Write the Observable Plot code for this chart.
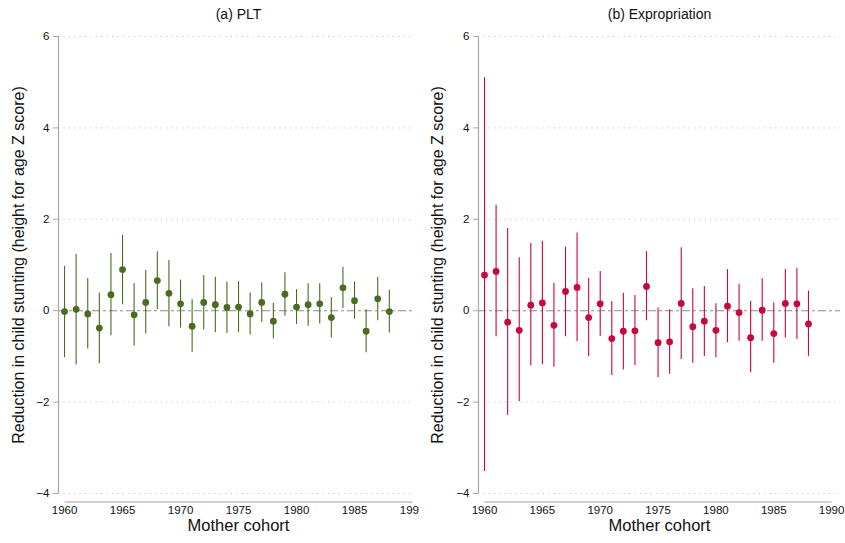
<!DOCTYPE html>
<html>
<head>
<meta charset="utf-8">
<script src="https://cdn.jsdelivr.net/npm/d3@7"></script>
<script src="https://cdn.jsdelivr.net/npm/@observablehq/plot@0.6"></script>
<style>
  html, body { margin: 0; padding: 0; background: #fff; }
  #wrap { position: relative; width: 845px; height: 543px; overflow: hidden; font-family: "Liberation Sans", Arial, sans-serif; }
  .panel { position: absolute; top: 0; overflow: hidden; }
</style>
</head>
<body>
<div id="wrap">
  <div id="left" class="panel" style="left:0px;width:419px;height:543px"></div>
  <div id="right" class="panel" style="left:422px;width:423px;height:543px"></div>
</div>
<script>
const years = [1960,1961,1962,1963,1964,1965,1966,1967,1968,1969,1970,1971,1972,1973,1974,1975,1976,1977,1978,1979,1980,1981,1982,1983,1984,1985,1986,1987,1988];

const pltEst = [-0.02,0.03,-0.07,-0.38,0.35,0.90,-0.09,0.18,0.66,0.38,0.15,-0.34,0.18,0.13,0.07,0.08,-0.07,0.18,-0.23,0.36,0.08,0.13,0.15,-0.15,0.50,0.22,-0.45,0.26,-0.02];
const pltLo  = [-1.03,-1.19,-0.84,-1.16,-0.55,0.13,-0.78,-0.51,0.02,-0.35,-0.38,-0.91,-0.42,-0.48,-0.50,-0.48,-0.53,-0.26,-0.62,-0.12,-0.30,-0.34,-0.29,-0.60,0.04,-0.19,-0.92,-0.22,-0.49];
const pltHi  = [0.97,1.23,0.70,0.39,1.25,1.65,0.59,0.88,1.29,1.10,0.67,0.24,0.77,0.73,0.63,0.64,0.39,0.61,0.16,0.83,0.46,0.59,0.59,0.29,0.95,0.63,0.02,0.73,0.45];

const expEst = [0.78,0.86,-0.25,-0.43,0.12,0.17,-0.32,0.42,0.51,-0.15,0.15,-0.61,-0.45,-0.44,0.53,-0.70,-0.68,0.16,-0.35,-0.23,-0.43,0.10,-0.04,-0.59,0.01,-0.50,0.16,0.15,-0.29];
const expLo  = [-3.52,-0.57,-2.29,-1.99,-1.21,-1.18,-1.24,-0.57,-0.68,-1.01,-0.56,-1.42,-1.30,-1.20,-0.22,-1.46,-1.39,-1.07,-1.15,-1.00,-1.03,-0.70,-0.67,-1.36,-0.67,-1.15,-0.60,-0.63,-1.00];
const expHi  = [5.10,2.31,1.80,1.16,1.47,1.52,0.60,1.39,1.70,0.71,0.86,0.20,0.38,0.33,1.29,0.06,0.02,1.38,0.48,0.53,0.15,0.90,0.58,0.20,0.70,0.17,0.90,0.93,0.43];

const yTicks = [-4,-2,0,2,4,6];
const gridTicks = [-4,-2,2,4,6];
const xTicks = [1960,1965,1970,1975,1980,1985,1990];

const titles = ["(a) PLT", "(b) Expropriation"];
const yLabel = "Reduction in child stunting (height for age Z score)";
const xLabel = "Mother cohort";

const fmt = d => d < 0 ? "\u2212" + Math.abs(d) : String(d);

function panel(el, opts) {
  const rows = years.map((y, i) => ({year: y, est: opts.est[i], lo: opts.lo[i], hi: opts.hi[i]}));
  const x0 = opts.xDomain[0];
  const tickLen = 5 / opts.pxPerYear;
  const axisSpan = [{a: xTicks[0], b: xTicks[xTicks.length - 1], y: -4}];
  const chart = Plot.plot({
    width: opts.width,
    height: 543,
    marginTop: 36,
    marginBottom: 50,
    marginLeft: opts.marginLeft,
    marginRight: opts.marginRight,
    style: {fontFamily: '"Liberation Sans", Arial, sans-serif', background: "#fff", overflow: "hidden"},
    x: {type: "linear", domain: opts.xDomain, axis: null},
    y: {type: "linear", domain: [-4, 6], axis: null},
    marks: [
      Plot.ruleY(gridTicks, {y: d => d, stroke: "#c4c4c4", strokeDasharray: "1.2,4.2", strokeWidth: 1}),
      Plot.ruleY([0], {y: d => d, x1: x0, x2: opts.xDomain[1], stroke: "#8c8c8c", strokeWidth: 1.1, strokeDasharray: "8,3,3,3"}),
      // y axis line and ticks
      Plot.ruleX([x0], {x: d => d, y1: -4, y2: 6, stroke: "#a8a8a8", strokeWidth: 1.2}),
      Plot.ruleY(yTicks, {y: d => d, x1: x0 - tickLen, x2: x0, stroke: "#a8a8a8", strokeWidth: 1}),
      Plot.text(yTicks, {y: d => d, text: fmt, frameAnchor: "left", dx: -9, textAnchor: "end", fontSize: 11.5, fill: "#111"}),
      // x axis line and labels
      Plot.link(axisSpan, {x1: "a", x2: "b", y1: "y", y2: "y", dy: 8.5, stroke: "#a0a0a0", strokeWidth: 1.2}),
      Plot.text(xTicks, {x: d => d, text: d => String(d), frameAnchor: "bottom", lineAnchor: "middle", dy: 16.5, fontSize: 11.5, fill: "#111"}),
      // error bars and points
      Plot.ruleX(rows, {x: "year", y1: "lo", y2: "hi", stroke: opts.color, strokeWidth: 1.1}),
      Plot.dot(rows, {x: "year", y: "est", r: 3.4, fill: opts.color, stroke: "none"}),
      // titles
      Plot.text([opts.title], {frameAnchor: "top", textAnchor: "middle", lineAnchor: "middle", dx: opts.titleDx, dy: -22, fontSize: 14, fill: "#111"}),
      Plot.text([xLabel], {frameAnchor: "bottom", textAnchor: "middle", lineAnchor: "middle", dx: opts.titleDx, dy: 32, fontSize: 16.5, fill: "#111"}),
      Plot.text([yLabel], {frameAnchor: "left", textAnchor: "middle", dx: opts.yLabelDx, rotate: -90, fontSize: 16, fill: "#111"})
    ]
  });
  el.appendChild(chart);
}

panel(document.getElementById("left"), {
  width: 419, marginLeft: 58, marginRight: 5, pxPerYear: 11.6,
  xDomain: [1959.48, 1959.48 + 356 / 11.6],
  est: pltEst, lo: pltLo, hi: pltHi,
  color: "#4b6b23",
  title: titles[0], titleDx: 2, yLabelDx: -40
});

panel(document.getElementById("right"), {
  width: 423, marginLeft: 56, marginRight: 5, pxPerYear: 11.57,
  xDomain: [1959.48, 1959.48 + 362 / 11.57],
  est: expEst, lo: expLo, hi: expHi,
  color: "#c8073a",
  title: titles[1], titleDx: 0, yLabelDx: -41
});
</script>
</body>
</html>
